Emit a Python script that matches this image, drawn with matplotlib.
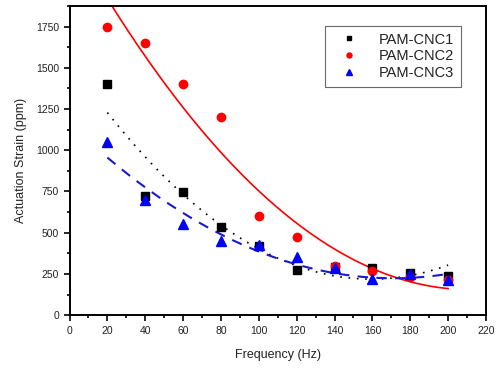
import numpy as np
import matplotlib
matplotlib.use("Agg")
import matplotlib.pyplot as plt
from matplotlib.ticker import MultipleLocator

plt.rcParams['font.family'] = ['Liberation Sans', 'DejaVu Sans']

freq = [20, 40, 60, 80, 100, 120, 140, 160, 180, 200]
cnc1 = [1400, 725, 745, 535, 420, 275, 290, 285, 255, 235]
cnc2 = [1750, 1650, 1400, 1200, 600, 475, 300, 270, 230, 215]
cnc3 = [1050, 700, 550, 450, 425, 350, 285, 220, 250, 210]

fig = plt.figure(figsize=(5, 3.69), dpi=100)
ax0 = fig.add_axes([0.139, 0.146, 0.833, 0.838])

xf = np.linspace(20, 200, 200)
xs = np.array(freq)
# quadratic fits through each series
p1 = np.polyfit(xs, cnc1, 2)
p2 = np.polyfit(xs, cnc2, 2)
p3 = np.polyfit(xs, cnc3, 2)
ax0.plot(xf, np.polyval(p1, xf), color='black', ls=(0, (1, 4)), lw=1.2)
ax0.plot(xf, np.polyval(p2, xf), color='red', ls='-', lw=1.2)
ax0.plot(xf, np.polyval(p3, xf), color='#1a1acc', ls=(0, (5, 4)), lw=1.5)

ax0.plot(freq, cnc1, 's', color='black', ms=5.5, label='PAM-CNC1')
ax0.plot(freq, cnc2, 'o', color='red', ms=6, label='PAM-CNC2')
ax0.plot(freq, cnc3, '^', color='blue', ms=7, label='PAM-CNC3')

ax0.set_xlim(0, 220)
ax0.set_ylim(0, 1875)
ax0.xaxis.set_major_locator(MultipleLocator(20))
ax0.xaxis.set_minor_locator(MultipleLocator(10))
ax0.yaxis.set_major_locator(MultipleLocator(250))
ax0.yaxis.set_minor_locator(MultipleLocator(125))
ax0.tick_params(which='both', direction='out', top=False, right=False, labelsize=7.5,
                width=1.2, labelcolor='#222222')
ax0.tick_params(which='major', length=4)
ax0.tick_params(which='minor', length=2.5)
for s in ax0.spines.values():
    s.set_linewidth(1.4)

ax0.set_xlabel("Frequency (Hz)", fontsize=9, labelpad=10, color='#222222')
ax0.set_ylabel("Actuation Strain (ppm)", fontsize=9, labelpad=6, color='#222222')

leg = ax0.legend(loc='upper right', bbox_to_anchor=(0.94, 0.935), fontsize=10.5,
                 frameon=True, fancybox=False, edgecolor='#444444', markerscale=0.6,
                 handletextpad=0.9, borderpad=0.45, labelspacing=0.2, handlelength=2.4,
                 borderaxespad=0)
leg.get_frame().set_linewidth(0.8)
for t in leg.get_texts():
    t.set_color('#222222')

fig.savefig("out.png", dpi=100)
